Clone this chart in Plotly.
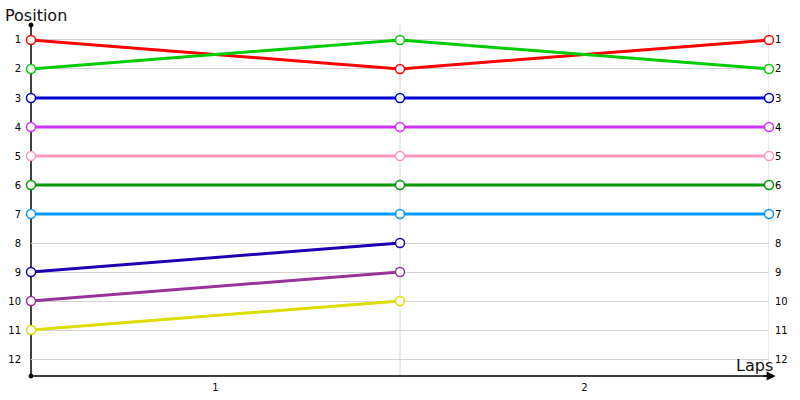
import plotly.graph_objects as go

laps = [0, 1, 2]
lap_labels = ["1", "2"]
positions = list(range(1, 13))

series = [
    ("Driver A", [1, 2, 1], "#ff0000"),
    ("Driver B", [2, 1, 2], "#00cc00"),
    ("Driver C", [3, 3, 3], "#0000cc"),
    ("Driver D", [4, 4, 4], "#cc33ff"),
    ("Driver E", [5, 5, 5], "#ff99bb"),
    ("Driver F", [6, 6, 6], "#009900"),
    ("Driver G", [7, 7, 7], "#0099ff"),
    ("Driver H", [9, 8], "#1a00b3"),
    ("Driver I", [10, 9], "#993399"),
    ("Driver J", [11, 10], "#dddd00"),
]

fig = go.Figure()
for name, vals, color in series:
    fig.add_trace(go.Scatter(
        x=laps[:len(vals)], y=vals, mode="lines+markers", name=name,
        line=dict(color=color, width=3),
        marker=dict(symbol="circle", size=9, color="white",
                    line=dict(color=color, width=1.5)),
        showlegend=False, cliponaxis=False,
    ))

# dummy trace for right axis
fig.add_trace(go.Scatter(x=[None], y=[None], yaxis="y2", showlegend=False))

yr = [12.586, 0.483]
fig.update_layout(
    width=800, height=400,
    margin=dict(l=31, r=31, t=25, b=24),
    plot_bgcolor="white", paper_bgcolor="white",
    font=dict(family="DejaVu Sans", size=10, color="#000000"),
    xaxis=dict(range=[0, 2], tickvals=[0.5, 1.5], ticktext=lap_labels,
               showgrid=False, zeroline=False, showline=False, ticks="",
               ticklabelstandoff=4, automargin=False),
    yaxis=dict(range=yr, tickvals=positions, showgrid=True,
               gridcolor="#d4d4d4", gridwidth=1, zeroline=False,
               showline=False, ticks="", ticklabelstandoff=9, automargin=False),
    yaxis2=dict(range=yr, tickvals=positions, overlaying="y", side="right",
                showgrid=False, zeroline=False, showline=False, ticks="",
                ticklabelstandoff=5, automargin=False),
)

# vertical grid lines at lap boundaries
for xv in [1, 2]:
    fig.add_shape(type="line", xref="x", yref="paper", x0=xv, x1=xv, y0=0,
                  y1=1, line=dict(color="#d4d4d4", width=1), layer="below")

# axis lines (beneath the markers)
fig.add_shape(type="line", xref="paper", yref="paper", x0=0, x1=0, y0=0, y1=1,
              line=dict(color="black", width=1.5), layer="below")
fig.add_shape(type="line", xref="paper", yref="paper", x0=0, x1=1.006, y0=0, y1=0,
              line=dict(color="black", width=1.5), layer="below")
# dots at ends of y axis
for yy in [0, 1]:
    fig.add_shape(type="circle", xref="paper", yref="paper",
                  x0=-2, x1=2, y0=-2, y1=2, xsizemode="pixel", ysizemode="pixel",
                  xanchor=0, yanchor=yy,
                  line=dict(color="black", width=1), fillcolor="black")
# arrow on x axis
fig.add_annotation(xref="paper", yref="paper", x=1.009, y=0, ax=-14, ay=0,
                   showarrow=True, arrowhead=2,
                   arrowsize=1.2, arrowwidth=1.5, arrowcolor="black", text="")

fig.add_annotation(xref="paper", yref="paper", x=0, y=1, xshift=-28, yshift=10,
                   text="Position", showarrow=False, xanchor="left", yanchor="middle",
                   font=dict(size=16, color="#111111"))
fig.add_annotation(xref="paper", yref="paper", x=1.008, y=0, yshift=11,
                   text="Laps", showarrow=False, xanchor="right", yanchor="middle",
                   font=dict(size=16, color="#111111"))

fig.write_html("out.html", config={"displayModeBar": False},
               post_script="document.body.style.margin='0';document.body.style.overflow='hidden';")
